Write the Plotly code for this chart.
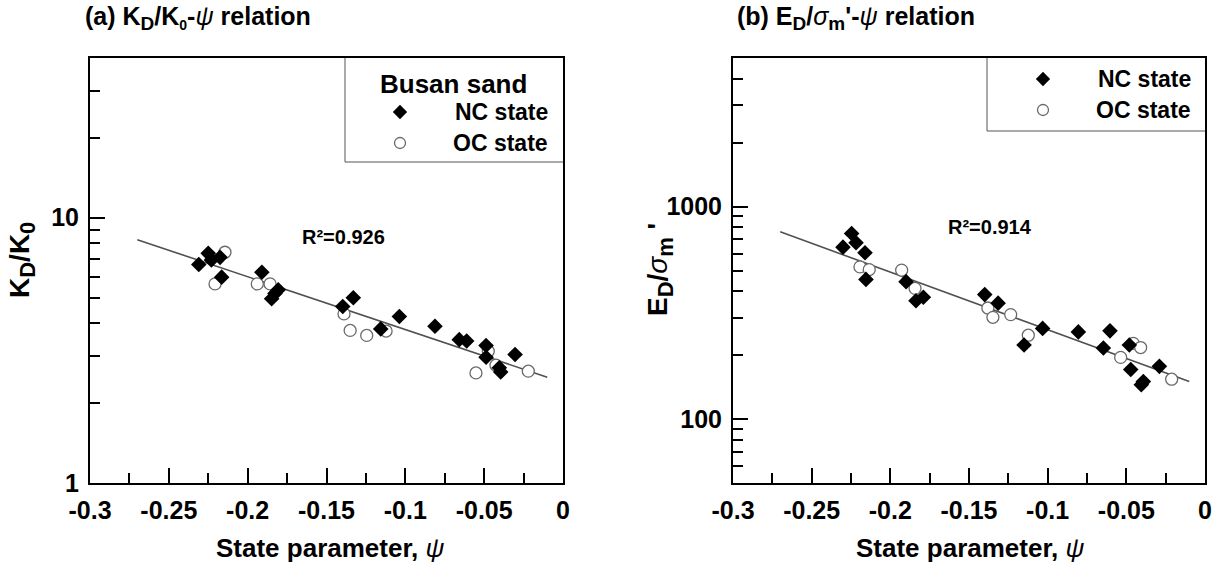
import numpy as np
import plotly.graph_objects as go

W, H = 1222, 567
FONT = "Liberation Sans, Arial, sans-serif"

# ---------------- data: panel (a) K_D/K0 vs psi ----------------
a_nc_psi = [-0.231, -0.225, -0.223, -0.2175, -0.2165, -0.191, -0.1806, -0.1848, -0.1827,
            -0.133, -0.1397, -0.1156, -0.1038, -0.0812, -0.0658, -0.0611, -0.0488, -0.0488,
            -0.0304, -0.0404, -0.0395]
a_nc_kd = [6.66, 7.34, 6.93, 7.09, 5.97, 6.23, 5.35, 4.95, 5.18,
           4.99, 4.63, 3.81, 4.24, 3.90, 3.47, 3.43, 3.30, 2.98,
           3.05, 2.72, 2.62]
a_oc_psi = [-0.2144, -0.2207, -0.1939, -0.1858, -0.1389, -0.135, -0.1245, -0.1122,
            -0.0474, -0.0425, -0.0552, -0.022]
a_oc_kd = [7.41, 5.63, 5.63, 5.63, 4.34, 3.76, 3.60, 3.74,
           3.14, 2.78, 2.60, 2.64]
a_fit_log_intercept = 0.379   # log10(K_D/K0) at psi = 0
a_fit_log_slope = -1.993      # per unit psi
a_r2 = "R²=0.926"

# ---------------- data: panel (b) E_D/sigma_m' vs psi ----------------
b_nc_psi = [-0.2301, -0.2246, -0.2218, -0.2161, -0.2155, -0.19, -0.1837, -0.179,
            -0.14, -0.1315, -0.1032, -0.115, -0.0805, -0.0604, -0.0646, -0.0481,
            -0.0472, -0.0392, -0.0405, -0.029]
b_nc_ed = [644, 747, 675, 606, 454, 443, 360, 374,
           385, 351, 267, 223, 257, 260, 216, 223,
           171, 150, 145, 177]
b_oc_psi = [-0.2193, -0.2134, -0.1928, -0.1843, -0.138, -0.1348, -0.1235, -0.1123,
            -0.0456, -0.0409, -0.0536, -0.0212]
b_oc_ed = [520, 505, 502, 412, 333, 301, 310, 248,
           227, 217, 195, 154]
b_fit_log_intercept = 2.149
b_fit_log_slope = -2.712
b_r2 = "R²=0.914"

fit_psi = [-0.27, -0.01]

x_tickvals = [-0.3, -0.25, -0.2, -0.15, -0.1, -0.05, 0]
x_ticktext = ["-0.3", "-0.25", "-0.2", "-0.15", "-0.1", "-0.05", "0"]
x_minorvals = [-0.275, -0.225, -0.175, -0.125, -0.075, -0.025]
a_y_tickvals = [1, 10]
a_y_ticktext = ["1", "10"]
a_y_minor = [2, 3, 4, 5, 6, 7, 8, 9, 20, 30]
b_y_tickvals = [100, 1000]
b_y_ticktext = ["100", "1000"]
b_y_minor = [60, 70, 80, 90, 200, 300, 400, 500, 600, 700, 800, 900, 2000, 3000, 4000]

# ---------------- helpers ----------------
def pxx(x):
    return x / W

def pxy(y):
    return 1 - y / H

A_L, A_R = 90, 563
B_L, B_R = 733, 1205
TOP, BOT = 58, 483

a_fit_y = [10 ** (a_fit_log_intercept + a_fit_log_slope * p) for p in fit_psi]
b_fit_y = [10 ** (b_fit_log_intercept + b_fit_log_slope * p) for p in fit_psi]

fig = go.Figure()

NC_MARK = dict(symbol="diamond", size=12, color="black", line=dict(width=0))
OC_MARK = dict(symbol="circle", size=12, color="white", line=dict(color="#6a6a6a", width=1.3))
LINE = dict(color="#505050", width=1.6)

# panel (a)
fig.add_trace(go.Scatter(x=fit_psi, y=a_fit_y, mode="lines", line=LINE,
                         xaxis="x", yaxis="y", showlegend=False, hoverinfo="skip"))
fig.add_trace(go.Scatter(x=a_oc_psi, y=a_oc_kd, mode="markers", marker=OC_MARK,
                         xaxis="x", yaxis="y", showlegend=False))
fig.add_trace(go.Scatter(x=a_nc_psi, y=a_nc_kd, mode="markers", marker=NC_MARK,
                         xaxis="x", yaxis="y", showlegend=False))
# panel (b)
fig.add_trace(go.Scatter(x=fit_psi, y=b_fit_y, mode="lines", line=LINE,
                         xaxis="x2", yaxis="y2", showlegend=False, hoverinfo="skip"))
fig.add_trace(go.Scatter(x=b_oc_psi, y=b_oc_ed, mode="markers", marker=OC_MARK,
                         xaxis="x2", yaxis="y2", showlegend=False))
fig.add_trace(go.Scatter(x=b_nc_psi, y=b_nc_ed, mode="markers", marker=NC_MARK,
                         xaxis="x2", yaxis="y2", showlegend=False))

# legend markers on a pixel overlay
leg_nc = dict(x=[400, 1043], y=[112, 79])
leg_oc = dict(x=[400, 1043], y=[143, 110])
fig.add_trace(go.Scatter(x=leg_oc["x"], y=leg_oc["y"], mode="markers",
                         marker=dict(symbol="circle", size=11, color="white",
                                     line=dict(color="#6a6a6a", width=1.3)),
                         xaxis="x3", yaxis="y3", showlegend=False, hoverinfo="skip"))
fig.add_trace(go.Scatter(x=leg_nc["x"], y=leg_nc["y"], mode="markers",
                         marker=dict(symbol="diamond", size=11, color="black"),
                         xaxis="x3", yaxis="y3", showlegend=False, hoverinfo="skip"))

tickfont = dict(family=FONT, size=25, color="black", weight="bold")

def xaxis(domain, anchor):
    return dict(domain=domain, anchor=anchor, range=[-0.3, 0], tickmode="array",
                tickvals=x_tickvals, ticktext=x_ticktext, ticks="inside", ticklen=15,
                tickwidth=1.5, tickcolor="black", showline=True, linewidth=2,
                linecolor="black", mirror=True, showgrid=False, zeroline=False,
                tickfont=tickfont, ticklabelstandoff=4, automargin=False,
                minor=dict(tickmode="array", tickvals=x_minorvals, ticks="inside",
                           ticklen=10, tickwidth=1.5, tickcolor="black", showgrid=False))

def yaxis(domain, anchor, rng, tv, tt, minor):
    return dict(domain=domain, anchor=anchor, type="log", range=rng, tickmode="array",
                tickvals=tv, ticktext=tt, ticks="inside", ticklen=15, tickwidth=1.5,
                tickcolor="black", showline=True, linewidth=2, linecolor="black",
                mirror=True, showgrid=False, zeroline=False, tickfont=tickfont,
                ticklabelstandoff=4, automargin=False,
                minor=dict(tickmode="array", tickvals=minor, ticks="inside",
                           ticklen=10, tickwidth=1.5, tickcolor="black", showgrid=False))

ydom = [pxy(BOT), pxy(TOP)]

fig.update_layout(
    width=W, height=H, margin=dict(l=0, r=0, t=0, b=0, pad=0, autoexpand=False),
    paper_bgcolor="white", plot_bgcolor="rgba(0,0,0,0)",
    showlegend=False,
    xaxis=xaxis([pxx(A_L), pxx(A_R)], "y"),
    yaxis=yaxis(ydom, "x", [0, np.log10(40)], a_y_tickvals, a_y_ticktext, a_y_minor),
    xaxis2=xaxis([pxx(B_L), pxx(B_R)], "y2"),
    yaxis2=yaxis(ydom, "x2", [np.log10(50), np.log10(5000)], b_y_tickvals, b_y_ticktext, b_y_minor),
    xaxis3=dict(domain=[0, 1], anchor="y3", range=[0, W], visible=False, fixedrange=True,
                automargin=False),
    yaxis3=dict(domain=[0, 1], anchor="x3", range=[H, 0], visible=False, fixedrange=True,
                automargin=False),
)

# legend boxes (left and bottom edges; top/right coincide with frame)
shapes = []
for (lx, by, rx) in [(345, 162, A_R), (987, 131, B_R)]:
    shapes.append(dict(type="line", xref="paper", yref="paper", x0=pxx(lx), x1=pxx(lx),
                       y0=pxy(by), y1=pxy(TOP), line=dict(color="#555", width=1)))
    shapes.append(dict(type="line", xref="paper", yref="paper", x0=pxx(lx), x1=pxx(rx),
                       y0=pxy(by), y1=pxy(by), line=dict(color="#555", width=1)))
fig.update_layout(shapes=shapes)

def ann(text, x, y, size, xanchor="center", yanchor="middle", angle=0, xref="paper", yref="paper"):
    return dict(text=text, x=x, y=y, xref=xref, yref=yref, xanchor=xanchor, yanchor=yanchor,
                showarrow=False, textangle=angle,
                font=dict(family=FONT, size=size, color="black"))

def sub(t, px):
    return "<sub><span style='font-size:%dpx'>%s</span></sub>" % (px, t)

anns = [
    ann("<b>(a) K" + sub("D", 19) + "/K" + sub("0", 14) + "-</b><i>ψ</i><b> relation</b>",
        pxx(83), pxy(18), 25, xanchor="left"),
    ann("<b>(b) E" + sub("D", 19) + "/</b><i>σ</i><b>" + sub("m", 19) + "'-</b><i>ψ</i><b> relation</b>",
        pxx(735), pxy(18), 25, xanchor="left"),
    ann("<b>State parameter, </b><i>ψ</i>", pxx(330), pxy(548), 26),
    ann("<b>State parameter, </b><i>ψ</i>", pxx(970), pxy(548), 26),
    ann("<b>K" + sub("D", 22) + "/K" + sub("0", 22) + "</b>", pxx(22), pxy(260), 28, angle=-90),
    ann("<b>E" + sub("D", 22) + "/</b><i>σ</i><b>" + sub("m", 22) + " '</b>", pxx(660), pxy(270), 28, angle=-90),
    ann("<b>Busan sand</b>", pxx(453), pxy(84), 26),
    ann("<b>NC state</b>", pxx(550), pxy(112), 23, xanchor="right"),
    ann("<b>OC state</b>", pxx(550), pxy(143), 23, xanchor="right"),
    ann("<b>NC state</b>", pxx(1193), pxy(79), 23, xanchor="right"),
    ann("<b>OC state</b>", pxx(1193), pxy(110), 23, xanchor="right"),
    ann("<b>" + a_r2 + "</b>", -0.1395, np.log10(8.48), 20, xref="x", yref="y"),
    ann("<b>" + b_r2 + "</b>", -0.1367, np.log10(800), 20, xref="x2", yref="y2"),
]
fig.update_layout(annotations=anns)

fig.write_html("out.html", config={"displayModeBar": False},
               post_script="document.body.style.margin='0';document.body.style.overflow='hidden';")
